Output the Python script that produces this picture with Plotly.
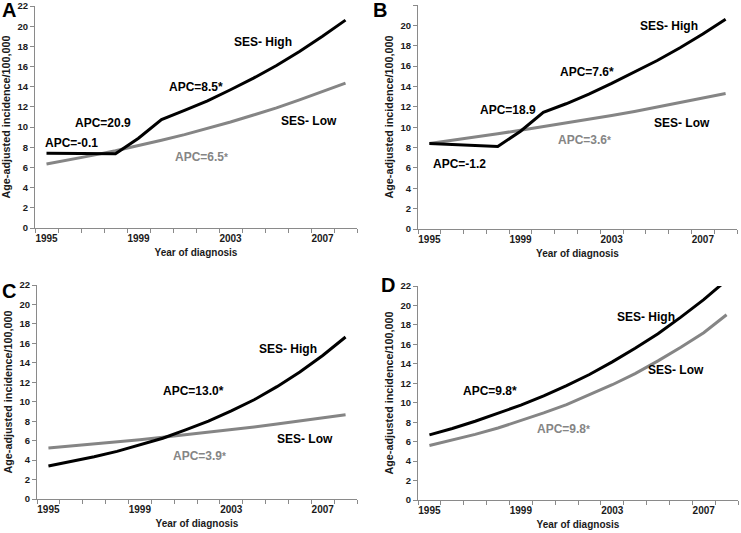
import plotly.graph_objects as go

years = [1995, 1996, 1997, 1998, 1999, 2000, 2001, 2002, 2003, 2004, 2005, 2006, 2007, 2008]

a_high = [7.4, 7.4, 7.4, 7.35, 8.9, 10.75, 11.65, 12.6, 13.7, 14.85, 16.1, 17.5, 19.0, 20.6]
a_low = [6.35, 6.75, 7.2, 7.65, 8.15, 8.7, 9.25, 9.85, 10.5, 11.2, 11.9, 12.7, 13.5, 14.35]
b_high = [8.4, 8.3, 8.2, 8.1, 9.6, 11.45, 12.3, 13.25, 14.3, 15.4, 16.55, 17.8, 19.15, 20.6]
b_low = [8.4, 8.7, 9.0, 9.35, 9.7, 10.05, 10.4, 10.8, 11.15, 11.55, 12.0, 12.4, 12.85, 13.3]
c_high = [3.4, 3.85, 4.35, 4.9, 5.55, 6.25, 7.1, 8.0, 9.05, 10.2, 11.55, 13.05, 14.75, 16.65]
c_low = [5.25, 5.45, 5.65, 5.9, 6.1, 6.35, 6.6, 6.85, 7.1, 7.4, 7.7, 8.0, 8.3, 8.65]
d_high = [6.7, 7.35, 8.1, 8.9, 9.75, 10.7, 11.75, 12.9, 14.2, 15.6, 17.1, 18.8, 20.6, 22.6]
d_low = [5.6, 6.15, 6.75, 7.4, 8.15, 8.95, 9.8, 10.8, 11.85, 13.0, 14.3, 15.7, 17.2, 19.05]

panel_letters = ["A", "B", "C", "D"]
x_tick_labels = ["1995", "1999", "2003", "2007"]
y_title = "Age-adjusted incidence/100,000"
x_title = "Year of diagnosis"

# annotation text per panel: (text, x, y, colour key)
labels_a = [("APC=-0.1", 1996.1, 8.4, "k"), ("APC=20.9", 1997.45, 10.4, "k"),
            ("APC=8.5*", 2001.5, 14.0, "k"), ("SES- High", 2004.4, 18.4, "k"),
            ("SES- Low", 2006.4, 10.6, "k"), ("APC=6.5*", 2001.75, 7.0, "g")]
labels_b = [("SES- High", 2005.5, 19.9, "k"), ("APC=7.6*", 2001.9, 15.45, "k"),
            ("APC=18.9", 1998.46, 11.7, "k"), ("SES- Low", 2006.1, 10.4, "k"),
            ("APC=3.6*", 2001.8, 8.75, "g"), ("APC=-1.2", 1996.3, 6.4, "k")]
labels_c = [("SES- High", 2005.46, 15.4, "k"), ("APC=13.0*", 2001.35, 11.06, "k"),
            ("SES- Low", 2006.24, 6.2, "k"), ("APC=3.9*", 2001.6, 4.45, "g")]
labels_d = [("SES- High", 2004.47, 18.8, "k"), ("APC=9.8*", 1997.64, 11.2, "k"),
            ("SES- Low", 2005.8, 13.4, "k"), ("APC=9.8*", 2000.88, 7.34, "g")]

W, H = 741, 533
BLACK = "#000000"
GRAY = "#858585"
AXC = "#8a8a8a"
TXT = "#1a1a1a"
FONT = "Liberation Sans"

# pixel boxes: (left, right, top, bottom)
boxes = [(35, 357, 6, 228), (418, 737, 5, 229), (37, 357, 285, 499), (418, 738, 286, 500)]
letter_pos = [(0, 10), (371, 10), (0, 291), (379, 285)]

panels = [(a_high, a_low, labels_a), (b_high, b_low, labels_b),
          (c_high, c_low, labels_c), (d_high, d_low, labels_d)]

boundaries = [y - 0.5 for y in years] + [years[-1] + 0.5]

fig = go.Figure()
annotations = []
for i, ((hi, lo, labs), box) in enumerate(zip(panels, boxes)):
    n = "" if i == 0 else str(i + 1)
    xa, ya = "x" + n, "y" + n
    fig.add_trace(go.Scatter(x=years, y=lo, mode="lines", xaxis=xa, yaxis=ya,
                             line=dict(color=GRAY, width=3), showlegend=False,
                             hoverinfo="skip"))
    fig.add_trace(go.Scatter(x=years, y=hi, mode="lines", xaxis=xa, yaxis=ya,
                             line=dict(color=BLACK, width=3), showlegend=False,
                             hoverinfo="skip"))
    l, r, t, b = box
    xdom = [l / W, r / W]
    ydom = [(H - b) / H, (H - t) / H]
    fig.layout["xaxis" + n] = dict(
        domain=xdom, anchor=ya, range=[1994.5, 2008.5], automargin=False,
        tickmode="array", tickvals=[int(v) for v in x_tick_labels], ticktext=x_tick_labels,
        ticks="", showgrid=False, zeroline=False, showline=True,
        linecolor=AXC, linewidth=1, ticklabelstandoff=1,
        minor=dict(tickmode="array", tickvals=boundaries, ticks="outside", ticklen=4,
                   tickcolor=AXC, tickwidth=1, showgrid=False),
        tickfont=dict(family=FONT, size=10, color=TXT, weight="bold"),
        title=dict(text=x_title, standoff=5,
                   font=dict(family=FONT, size=10, color=TXT, weight="bold")),
        fixedrange=True)
    fig.layout["yaxis" + n] = dict(
        domain=ydom, anchor=xa, range=[0, 22], dtick=2, tick0=0, automargin=False,
        ticks="outside", ticklen=4, tickcolor=AXC, tickwidth=1,
        showgrid=False, zeroline=False, showline=True, linecolor=AXC, linewidth=1,
        tickfont=dict(family=FONT, size=9.5, color=TXT, weight="bold"),
        title=dict(text=y_title, standoff=4,
                   font=dict(family=FONT, size=10.8, color=TXT, weight="bold")),
        fixedrange=True)
    for text, x, y, ck in labs:
        if ck == "g":
            base, star = text[:-1], text[-1]
            txt = base + "<span style='font-size:10px'>" + star + "</span>"
            col = GRAY
        else:
            txt = text
            col = BLACK
        annotations.append(dict(x=x, y=y, xref=xa, yref=ya, text=txt, showarrow=False,
                                font=dict(family=FONT, size=12, color=col, weight="bold"),
                                xanchor="center", yanchor="middle"))
    lx, ly = letter_pos[i]
    annotations.append(dict(x=lx / W, y=(H - ly) / H, xref="paper", yref="paper",
                            text=panel_letters[i], showarrow=False, xanchor="left",
                            yanchor="middle",
                            font=dict(family=FONT, size=20, color=BLACK, weight="bold")))

fig.update_layout(width=W, height=H, margin=dict(l=0, r=0, t=0, b=0, autoexpand=False),
                  paper_bgcolor="white", plot_bgcolor="white",
                  annotations=annotations, showlegend=False)

fig.write_html("out.html", config={"displayModeBar": False},
               post_script="document.body.style.margin='0px';document.body.style.overflow='hidden';")
